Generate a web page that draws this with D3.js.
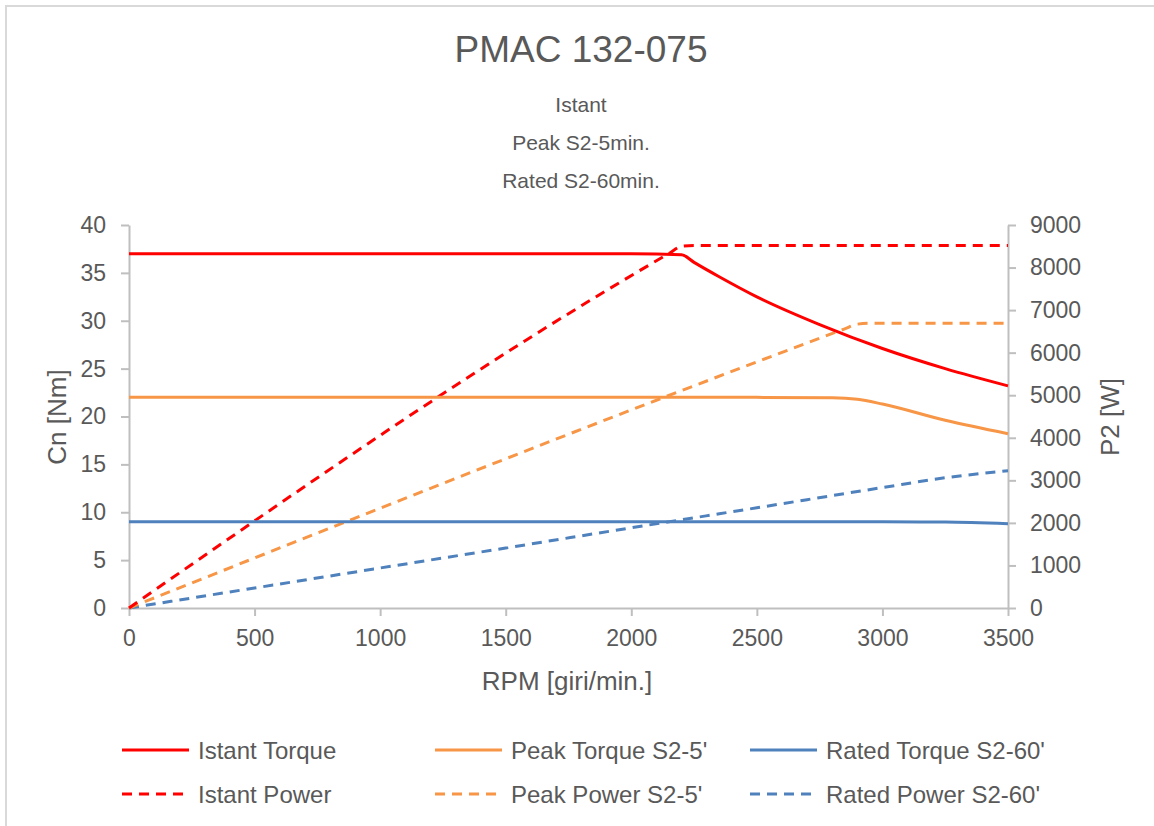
<!DOCTYPE html>
<html>
<head>
<meta charset="utf-8">
<script src="https://cdn.jsdelivr.net/npm/d3@7"></script>
<style>
  body { margin: 0; background: #fff; }
  svg text { font-family: "Liberation Sans", Arial, sans-serif; fill: #595959; }
</style>
</head>
<body>
<svg id="chart" width="1154" height="826"></svg>
<script>
// values
var rpmTicks = [0, 500, 1000, 1500, 2000, 2500, 3000, 3500];
var torqueTicks = [0, 5, 10, 15, 20, 25, 30, 35, 40];
var powerTicks = [0, 1000, 2000, 3000, 4000, 5000, 6000, 7000, 8000, 9000];

var istantTorqueRpm = [0, 500, 1000, 1500, 2000, 2200, 2250, 2350, 2500, 2750, 3000, 3250, 3500];
var istantTorque    = [37, 37, 37, 37, 37, 36.9, 36.1, 34.6, 32.5, 29.6, 27.1, 25.0, 23.2];
var istantPowerRpm  = [0, 2150, 2200, 2250, 3500];
var istantPower     = [0, 8330, 8500, 8520, 8520];

var peakTorqueRpm = [0, 500, 1000, 1500, 2000, 2500, 2800, 2900, 3000, 3250, 3500];
var peakTorque    = [22, 22, 22, 22, 22, 22, 21.95, 21.8, 21.3, 19.6, 18.2];
var peakPowerRpm  = [0, 2850, 2900, 2950, 3500];
var peakPower     = [0, 6560, 6670, 6690, 6690];

var ratedTorqueRpm = [0, 1000, 2000, 3000, 3250, 3500];
var ratedTorque    = [9, 9, 9, 9, 8.98, 8.8];
var ratedPowerRpm  = [0, 500, 1000, 1500, 2000, 2500, 3000, 3250, 3500];
var ratedPower     = [0, 470, 940, 1410, 1885, 2355, 2830, 3060, 3225];

var legendNames = ["Istant Torque", "Peak Torque S2-5'", "Rated Torque S2-60'",
                   "Istant Power", "Peak Power S2-5'", "Rated Power S2-60'"];

var red = "#ff0000", orange = "#f79646", blue = "#4f81bd";

var svg = d3.select("#chart");

// outer frame
svg.append("rect")
    .attr("x", 6).attr("y", 6).attr("width", 1170).attr("height", 840)
    .attr("fill", "none").attr("stroke", "#d9d9d9").attr("stroke-width", 2);

// titles
svg.append("text").attr("x", 581).attr("y", 62).attr("text-anchor", "middle")
    .style("font-size", "37px").text("PMAC 132-075");
["Istant", "Peak S2-5min.", "Rated S2-60min."].forEach(function(s, i) {
  svg.append("text").attr("x", 581).attr("y", 112 + i * 38).attr("text-anchor", "middle")
      .style("font-size", "21px").text(s);
});

var x = d3.scaleLinear().domain([0, 3500]).range([129, 1008]);
var yL = d3.scaleLinear().domain([0, 40]).range([608, 225]);
var yR = d3.scaleLinear().domain([0, 9000]).range([608, 225]);

function styleAxis(g) {
  g.select(".domain").attr("stroke", "#bfbfbf").attr("stroke-width", 2);
  g.selectAll(".tick line").attr("stroke", "#bfbfbf").attr("stroke-width", 2);
  g.selectAll(".tick text").style("font-size", "23px").attr("fill", "#595959");
}

svg.append("g").attr("transform", "translate(0,608)")
    .call(d3.axisBottom(x).tickValues(rpmTicks).tickFormat(d3.format("d"))
      .tickSize(8).tickSizeOuter(0).tickPadding(14))
    .call(styleAxis);
svg.append("g").attr("transform", "translate(129,0)")
    .call(d3.axisLeft(yL).tickValues(torqueTicks).tickFormat(d3.format("d"))
      .tickSize(8).tickSizeOuter(0).tickPadding(15))
    .call(styleAxis);
svg.append("g").attr("transform", "translate(1008,0)")
    .call(d3.axisRight(yR).tickValues(powerTicks).tickFormat(d3.format("d"))
      .tickSize(8).tickSizeOuter(0).tickPadding(14))
    .call(styleAxis);

// axis titles
svg.append("text").attr("x", 567).attr("y", 690).attr("text-anchor", "middle")
    .style("font-size", "26px").text("RPM [giri/min.]");
svg.append("text").attr("transform", "translate(66,417) rotate(-90)").attr("text-anchor", "middle")
    .style("font-size", "26px").text("Cn [Nm]");
svg.append("text").attr("transform", "translate(1119,417) rotate(-90)").attr("text-anchor", "middle")
    .style("font-size", "26px").text("P2 [W]");

function draw(rpm, vals, scale, color, dashed) {
  var line = d3.line()
      .x(function(d, i) { return x(rpm[i]); })
      .y(function(d) { return scale(d); })
      .curve(d3.curveMonotoneX);
  svg.append("path")
      .attr("d", line(vals))
      .attr("fill", "none")
      .attr("stroke", color)
      .attr("stroke-width", 3)
      .attr("stroke-dasharray", dashed ? "10,7" : null);
}

draw(ratedPowerRpm, ratedPower, yR, blue, true);
draw(peakPowerRpm, peakPower, yR, orange, true);
draw(istantPowerRpm, istantPower, yR, red, true);
draw(ratedTorqueRpm, ratedTorque, yL, blue, false);
draw(peakTorqueRpm, peakTorque, yL, orange, false);
draw(istantTorqueRpm, istantTorque, yL, red, false);

// legend
var colors = [red, orange, blue];
var colX = [122, 435, 750];
legendNames.forEach(function(name, i) {
  var c = i % 3, r = Math.floor(i / 3);
  var ly = 750 + r * 44;
  svg.append("line")
      .attr("x1", colX[c]).attr("x2", colX[c] + 67)
      .attr("y1", ly).attr("y2", ly)
      .attr("stroke", colors[c]).attr("stroke-width", 3)
      .attr("stroke-dasharray", r ? "10,7" : null);
  svg.append("text").attr("x", colX[c] + 76).attr("y", ly + 8.5)
      .style("font-size", "24px").text(name);
});
</script>
</body>
</html>
